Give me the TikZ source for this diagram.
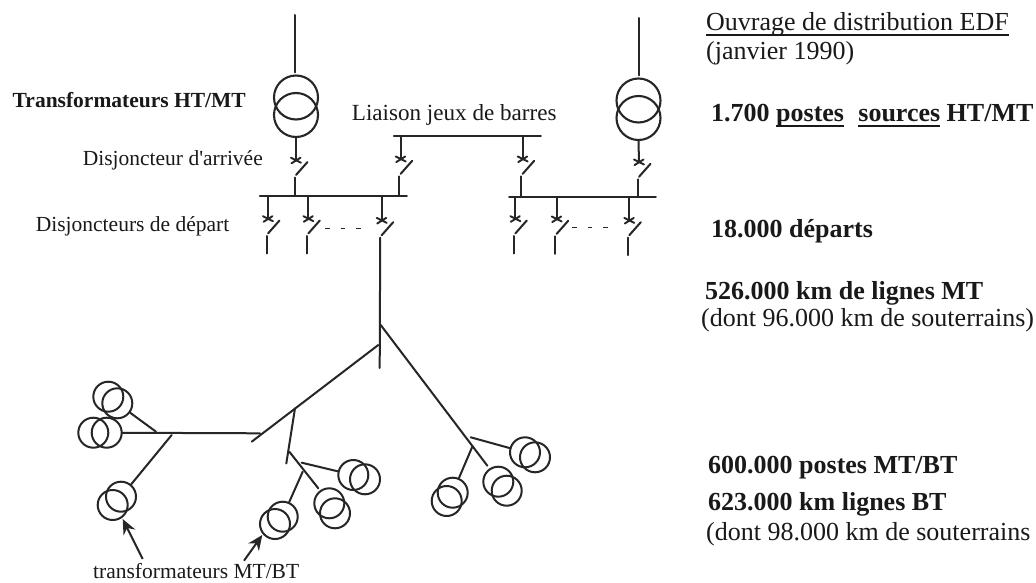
\documentclass[tikz,border=0pt]{standalone}
\usepackage{fontspec}
\setmainfont{Liberation Serif}
\usetikzlibrary{arrows.meta,calc}
\newcommand\ulbox[1]{\setbox0\hbox{#1}\rlap{\rule[-5pt]{\wd0}{1.5pt}}#1}
\colorlet{ink}{black!85}
\tikzset{
  wire/.style={line width=2pt,ink,line cap=round},
  bar/.style={line width=2.5pt,ink,line cap=round},
  txc/.style={circle,draw=ink,line width=2.1pt,minimum size=44pt,inner sep=0pt},
  txs/.style={circle,draw=ink,line width=2pt,minimum size=30pt,inner sep=0pt},
  lab/.style={anchor=base west,inner sep=0pt,text=black!90},
  big/.style={lab,font=\fontsize{26}{26}\selectfont},
  bigb/.style={lab,font=\fontsize{26}{26}\selectfont\bfseries},
  small/.style={lab,font=\fontsize{21.5}{21.5}\selectfont},
  pointer/.style={line width=2pt,ink,-{Stealth[length=15pt,width=13pt,inset=5pt]}},
  dots/.style={line width=1.8pt,ink,dash pattern=on 4.5pt off 11pt},
  brk/.pic={
    \coordinate (-top) at (0,0);
    \draw[wire,line width=1.9pt] (-5,-2.8) -- (5,2.2) (-4.5,2.8) -- (4.5,-2.8);
    \draw[wire] (0,14.5) -- (11.5,1.5);
    \coordinate (-bot) at (-1.5,17);
  }
}
\begin{document}
\begin{tikzpicture}[x=1pt,y=-1pt]
\useasboundingbox (0,0) rectangle (1036,583);
\fill[white] (0,0) rectangle (1036,583);
% HV transformers
\node[txc] (t1a) at (296,97.5) {};
\node[txc] (t1b) at (296,115) {};
\node[txc] (t2a) at (638.5,100.5) {};
\node[txc] (t2b) at (638.5,118) {};
\coordinate (hv1) at (295,15);
\coordinate (hv2) at (638.7,18);
\draw[wire] (hv1) -- ($(hv1 |- t1a.north)+(0,-2)$);
\draw[wire] (hv2) -- ($(hv2 |- t2a.north)+(0,-2)$);
% busbars
\coordinate (b1l) at (260,196);
\coordinate (b1r) at (406.7,196);
\coordinate (b2l) at (509.3,197);
\coordinate (b2r) at (655.7,197);
\coordinate (tl) at (394,136);
\coordinate (tr) at (540.7,136);
\draw[bar] (b1l) -- (b1r);
\draw[bar] (b2l) -- (b2r);
\draw[bar] (tl) -- (tr);
% breakers
\pic (a1) at (296,160.5) {brk};
\pic (a2) at (639,162.3) {brk};
\pic (c1) at (400.7,159.3) {brk};
\pic (c2) at (522.7,159.3) {brk};
\pic (d1) at (268,219) {brk};
\pic (d2) at (308.3,219) {brk};
\pic (d3) at (381.7,220.7) {brk};
\pic (e1) at (515.3,219) {brk};
\pic (e2) at (556.7,219.3) {brk};
\pic (e3) at (629.3,220.7) {brk};
% breaker connections
\draw[wire] (t1b.south) -- (a1-top);
\draw[wire] (t2b.south) -- (a2-top);
\draw[wire] (a1-bot) -- (a1-bot |- b1l);
\draw[wire] (a2-bot) -- (a2-bot |- b2l);
\draw[wire] (c1-top |- tl) -- (c1-top);
\draw[wire] (c2-top |- tl) -- (c2-top);
\draw[wire] (c1-bot) -- (c1-bot |- b1l);
\draw[wire] (c2-bot) -- (c2-bot |- b2l);
\foreach \s in {d1,d2,d3}{\draw[wire] (\s-top |- b1l) -- (\s-top);}
\foreach \s in {e1,e2,e3}{\draw[wire] (\s-top |- b2l) -- (\s-top);}
\foreach \s in {d1,d2,e1,e2,e3}{\draw[wire] (\s-bot) -- ++(0,17.5);}
% dashes
\coordinate (da) at (325,228.5); \coordinate (db) at (361,228.5);
\coordinate (dc) at (572,227.5); \coordinate (dd) at (608,227.5);
\draw[dots] (da) -- (db);
\draw[dots] (dc) -- (dd);
% MT/BT transformers
\node[txs] (s1a) at (108.3,396.7) {};
\node[txs] (s1b) at (117.3,403.3) {};
\node[txs] (s2a) at (93.3,432.7) {};
\node[txs] (s2b) at (106.7,432.7) {};
\node[txs] (s3a) at (121,496.7) {};
\node[txs] (s3b) at (112.7,505) {};
\node[txs] (s4a) at (282.7,516.7) {};
\node[txs] (s4b) at (275,524) {};
\node[txs] (s5a) at (329.3,503.3) {};
\node[txs] (s5b) at (335,513.3) {};
\node[txs] (s6a) at (353.3,475) {};
\node[txs] (s6b) at (365,479.3) {};
\node[txs] (s7a) at (525,452.3) {};
\node[txs] (s7b) at (535,457.3) {};
\node[txs] (s8a) at (498.3,481.7) {};
\node[txs] (s8b) at (506.7,490.7) {};
\node[txs] (s9a) at (452.7,492.7) {};
\node[txs] (s9b) at (446.7,501) {};
% MT network
\coordinate (f0) at (379.7,368);
\coordinate (fl1) at (378.3,345);
\coordinate (fl2) at (251.7,441.7);
\coordinate (fr1) at (380.7,325);
\coordinate (fr2) at (487.3,465.7);
\draw[wire] (d3-bot) -- (f0);
\draw[wire] (fl1) -- (fl2);
\draw[wire] (fr1) -- (fr2);
\coordinate (h1) at (260,433.3);
\coordinate (j1) at (295,408.3);
\coordinate (j2) at (286.3,463.5);
\coordinate (j3) at (289.3,451.7);
\coordinate (j4) at (318.3,488.3);
\coordinate (j5) at (301.7,462.7);
\coordinate (j6) at (302.7,471.7);
\coordinate (k1) at (156,431.7);
\coordinate (k2) at (171.7,435);
\coordinate (m1) at (470.7,437.3);
\coordinate (m2) at (472.3,446.7);
\draw[wire] (h1) -- (s2b);
\draw[wire] (k1) -- (s1b);
\draw[wire] (k2) -- (s3a);
\draw[wire] (j1) -- (j2);
\draw[wire] (j3) -- (j4);
\draw[wire] (j5) -- (s6a);
\draw[wire] (j6) -- (s4a);
\draw[wire] (m1) -- (s7a);
\draw[wire] (m2) -- (s9a);
% pointers
\node[small,anchor=base west] (tm) at (93,578.5) {transformateurs MT/BT};
\coordinate (p1) at (142.7,559);
\coordinate (p2) at (122.7,519);
\coordinate (p3) at (244,560.7);
\coordinate (p4) at (262.3,535);
\draw[pointer] (p1) -- (p2);
\draw[pointer] (p3) -- (p4);
% left labels
\node[small,font=\fontsize{21.5}{21.5}\selectfont\bfseries,anchor=base east] (l1) at (246,108) {Transformateurs HT/MT};
\node[small,anchor=base east] (l2) at (263,165) {Disjoncteur d\textquotesingle arrivée};
\node[small,anchor=base east] (l3) at (229.5,231.5) {Disjoncteurs de départ};
\node[lab,font=\fontsize{23.1}{23.1}\selectfont] (l4) at (351.7,120.7) {Liaison jeux de barres};
% right labels
\node[big] (r1) at (706,30.7) {\ulbox{Ouvrage de distribution EDF}};
\node[big] (r2) at (706,60) {(janvier 1990)};
\node[bigb] (r3) at (711,121.7) {1.700 \ulbox{postes}\hspace{.55em}\ulbox{sources} HT/MT};
\node[bigb] (r4) at (711,237.3) {18.000 départs};
\node[bigb] (r5) at (705,299) {526.000 km de lignes MT};
\node[big] (r6) at (701,326) {(dont 96.000 km de souterrains)};
\node[bigb] (r7) at (708,473.3) {600.000 postes MT/BT};
\node[bigb] (r8) at (708,510) {623.000 km lignes BT};
\node[big] (r9) at (706,540) {(dont 98.000 km de souterrains};
\end{tikzpicture}
\end{document}
